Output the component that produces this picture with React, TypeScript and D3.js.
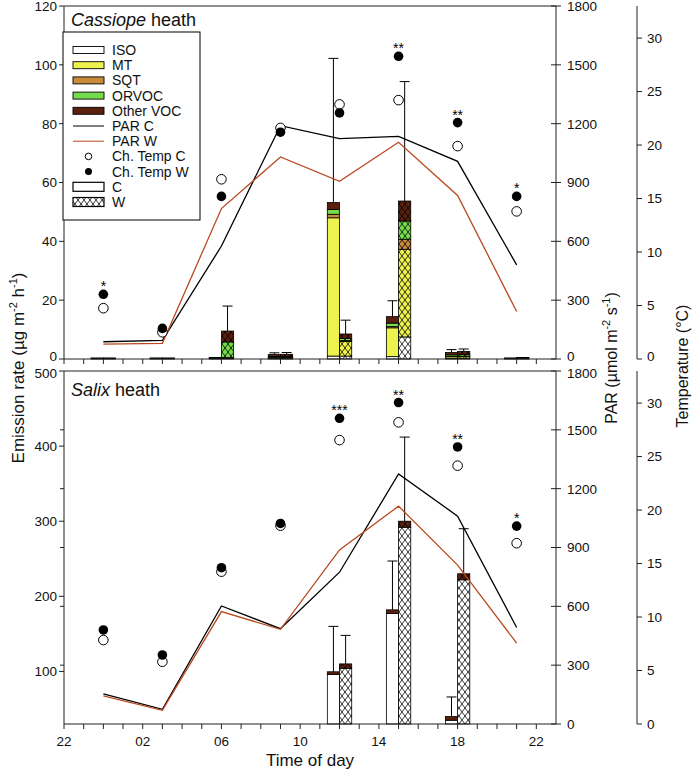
import React from 'react';
import * as d3 from 'd3';

// ---------- data ----------
const times = [0, 3, 6, 9, 12, 15, 18, 21]; // hour of day
const xLabelHours = [22, 26, 30, 34, 38, 42, 46];
const compNames = ['ISO', 'MT', 'SQT', 'ORVOC', 'Other VOC'];
const compColors = ['#ffffff', '#eef24c', '#c98a3a', '#74dc4c', '#5a1f0d'];

// Cassiope heath, control (C)
const cassC_ISO = [0.1, 0.1, 0.1, 0.2, 1.0, 0.8, 0.3, 0.1];
const cassC_MT = [0.1, 0.1, 0.1, 0.3, 47.0, 9.8, 0.5, 0.1];
const cassC_SQT = [0.0, 0.0, 0.0, 0.1, 1.2, 0.4, 0.1, 0.0];
const cassC_ORVOC = [0.05, 0.05, 0.1, 0.3, 1.6, 1.2, 0.5, 0.05];
const cassC_Other = [0.1, 0.1, 0.2, 0.6, 2.4, 2.2, 0.8, 0.1];
const cassC_Err = [0, 0, 0, 0.6, 49.0, 5.4, 1.0, 0];
// Cassiope heath, warming (W)
const cassW_ISO = [0.1, 0.1, 0.2, 0.2, 1.0, 7.5, 0.3, 0.1];
const cassW_MT = [0.1, 0.1, 0.2, 0.3, 5.0, 29.8, 0.6, 0.1];
const cassW_SQT = [0.0, 0.0, 0.1, 0.1, 0.3, 3.4, 0.1, 0.0];
const cassW_ORVOC = [0.05, 0.05, 5.3, 0.3, 0.7, 6.2, 0.6, 0.1];
const cassW_Other = [0.1, 0.1, 3.7, 0.7, 1.5, 6.8, 1.0, 0.2];
const cassW_Err = [0, 0, 8.5, 0.6, 4.7, 40.6, 0.8, 0];
const cassParC = [88, 95, 576, 1190, 1124, 1135, 1008, 480];
const cassParW = [76, 80, 767, 1030, 906, 1105, 834, 242];
const cassTempC = [4.75, 2.5, 16.8, 21.6, 23.8, 24.2, 19.9, 13.8];
const cassTempW = [6.05, 2.86, 15.2, 21.2, 23.0, 28.3, 22.1, 15.2];
const cassStars = ['*', '', '', '', '', '**', '**', '*'];

// Salix heath, control (C)
const salC_ISO = [2, 1, 3, 5, 96, 177, 35, 3];
const salC_MT = [0, 0, 0, 0, 0, 0, 0, 0];
const salC_SQT = [0, 0, 0, 0, 0, 0, 0, 0];
const salC_ORVOC = [0, 0, 0, 0, 0, 0, 0, 0];
const salC_Other = [0.5, 0.5, 1, 1, 3.5, 5, 5, 0.5];
const salC_Err = [0, 0, 0, 0, 60.5, 65, 26, 0];
// Salix heath, warming (W)
const salW_ISO = [2, 1, 3, 6, 104, 292, 222, 3];
const salW_MT = [0, 0, 0, 0, 0, 0, 0, 0];
const salW_SQT = [0, 0, 0, 0, 0, 0, 0, 0];
const salW_ORVOC = [0, 0, 0, 0, 0, 0, 0, 0];
const salW_Other = [0.5, 0.5, 1, 1, 6, 8, 8, 0.5];
const salW_Err = [0, 0, 0, 0, 38, 112, 60, 0];
const salParC = [153, 75, 602, 486, 774, 1275, 1060, 492];
const salParW = [144, 70, 573, 483, 888, 1111, 810, 412];
const salTempC = [7.85, 5.82, 14.24, 18.54, 26.54, 28.2, 24.15, 16.9];
const salTempW = [8.79, 6.45, 14.61, 18.75, 28.58, 30.05, 25.9, 18.5];
const salStars = ['', '', '', '', '***', '**', '**', '*'];

const cassLeftTicks = [0, 20, 40, 60, 80, 100, 120];
const salLeftTicks = [100, 200, 300, 400, 500];
const parTicks = [0, 300, 600, 900, 1200, 1500, 1800];
const tempTicks = [0, 5, 10, 15, 20, 25, 30];

// ---------- layout ----------
const W = 694;
const H = 770;
const XL = 64;
const XR = 556;
const TX = 637;
const FONT = '"Liberation Sans", Arial, Helvetica, sans-serif';
const PAR_W_COLOR = '#b9491f';

const x = d3.scaleLinear().domain([22, 47]).range([XL, XR]);
const hourPos = (t: number) => (t < 22 ? t + 24 : t);
const BW = 12.2;

type PanelProps = {
  top: number;
  bottom: number;
  leftDomain: [number, number];
  leftTicks: number[];
  extraLeftTicks: boolean;
  comps: { C: number[][]; W: number[][] };
  errs: { C: number[]; W: number[] };
  parC: number[];
  parW: number[];
  tempC: number[];
  tempW: number[];
  stars: string[];
  italic: string;
  titleY: number;
  showXLabels: boolean;
  isTop: boolean;
};

function Panel(p: PanelProps) {
  const yL = d3.scaleLinear().domain(p.leftDomain).range([p.bottom, p.top]);
  const yP = d3.scaleLinear().domain([0, 1800]).range([p.bottom, p.top]);
  const yT = d3.scaleLinear().domain([0, 33]).range([p.bottom, p.top]);
  const dmin = p.leftDomain[0];
  const dmax = p.leftDomain[1];

  // nudge labels at the panel joint so they do not collide
  const nudge = (v: number, lo: number, hi: number) => {
    if (p.isTop && v === lo) return -2.5;
    if (!p.isTop && v === hi) return 2.5;
    return 0;
  };

  const bars: React.ReactNode[] = [];
  (['C', 'W'] as const).forEach((side) => {
    times.forEach((t, i) => {
      const cx = x(hourPos(t));
      const x0 = side === 'C' ? cx - BW : cx;
      let cum = 0;
      compNames.forEach((_, k) => {
        const v = p.comps[side][k][i];
        const lo = Math.max(cum, dmin);
        const hi = Math.max(cum + v, dmin);
        cum += v;
        if (v <= 0 || hi <= lo) return;
        const y1 = yL(hi);
        const y0 = yL(lo);
        bars.push(
          <rect key={`${side}-${i}-${k}`} x={x0} y={y1} width={BW} height={Math.max(y0 - y1, 0.01)}
            fill={compColors[k]} stroke="#000" strokeWidth={0.8} />
        );
        if (side === 'W') {
          bars.push(
            <rect key={`${side}-${i}-${k}-h`} x={x0} y={y1} width={BW} height={Math.max(y0 - y1, 0.01)}
              fill="url(#hatch)" stroke="none" />
          );
        }
      });
      const e = p.errs[side][i];
      if (e > 0 && cum > dmin) {
        const ex = x0 + BW / 2;
        bars.push(
          <g key={`${side}-${i}-err`} stroke="#000" strokeWidth={1}>
            <line x1={ex} x2={ex} y1={yL(cum)} y2={yL(cum + e)} />
            <line x1={ex - 5} x2={ex + 5} y1={yL(cum + e)} y2={yL(cum + e)} />
          </g>
        );
      }
    });
  });

  const lineGen = (vals: number[]) =>
    d3.line<number>().x((_, i) => x(hourPos(times[i]))).y((v) => yP(v))(vals) || '';

  const hours = d3.range(22, 47);

  return (
    <g>
      {bars}
      <path d={lineGen(p.parC)} fill="none" stroke="#000" strokeWidth={1.3} />
      <path d={lineGen(p.parW)} fill="none" stroke={PAR_W_COLOR} strokeWidth={1.3} />
      {times.map((t, i) => (
        <circle key={`tc${i}`} cx={x(hourPos(t))} cy={yT(p.tempC[i])} r={4.8} fill="#fff" stroke="#000" strokeWidth={1} />
      ))}
      {times.map((t, i) => (
        <circle key={`tw${i}`} cx={x(hourPos(t))} cy={yT(p.tempW[i])} r={4.8} fill="#000" />
      ))}
      {times.map((t, i) =>
        p.stars[i] ? (
          <text key={`st${i}`} x={x(hourPos(t))} y={yT(p.tempW[i]) - 3} fontSize={14} textAnchor="middle" fontFamily={FONT}>
            {p.stars[i]}
          </text>
        ) : null
      )}
      <g stroke="#222" strokeWidth={1} fill="none">
        <line x1={XL} x2={XR} y1={p.top} y2={p.top} />
        <line x1={XL} x2={XR} y1={p.bottom} y2={p.bottom} />
        <line x1={XL} x2={XL} y1={p.top} y2={p.bottom} />
        <line x1={XR} x2={XR} y1={p.top} y2={p.bottom} />
        <line x1={TX} x2={TX} y1={p.top} y2={p.bottom} />
      </g>
      {p.leftTicks.map((v) => (
        <g key={`lt${v}`}>
          <line x1={XL - 5} x2={XL} y1={yL(v)} y2={yL(v)} stroke="#222" />
          <text x={XL - 7} y={yL(v) + nudge(v, dmin, dmax)} dy="0.36em" textAnchor="end" fontSize={13.5} fontFamily={FONT} fill="#111">{v}</text>
        </g>
      ))}
      {p.extraLeftTicks &&
        parTicks.slice(1, 6).map((v) => (
          <line key={`elt${v}`} x1={XL - 4} x2={XL} y1={yP(v)} y2={yP(v)} stroke="#222" />
        ))}
      {parTicks.map((v) => (
        <g key={`pt${v}`}>
          <line x1={XR - 5} x2={XR + 5} y1={yP(v)} y2={yP(v)} stroke="#222" />
          <text x={XR + 11} y={yP(v) + nudge(v, 0, 1800)} dy="0.36em" fontSize={13.5} fontFamily={FONT} fill="#111">{v}</text>
        </g>
      ))}
      {tempTicks.map((v) => (
        <g key={`tt${v}`}>
          <line x1={TX} x2={TX + 5} y1={yT(v)} y2={yT(v)} stroke="#222" />
          <text x={TX + 10} y={yT(v) + (p.isTop && v === 0 ? -2.5 : 0)} dy="0.36em" fontSize={13.5} fontFamily={FONT} fill="#111">{v}</text>
        </g>
      ))}
      {hours.map((h) => (
        <line key={`xt${h}`} x1={x(h)} x2={x(h)} y1={p.bottom} y2={p.bottom + 5} stroke="#222" />
      ))}
      {p.showXLabels &&
        xLabelHours.map((h) => (
          <text key={`xl${h}`} x={x(h)} y={p.bottom + 22} textAnchor="middle" fontSize={13.5} fontFamily={FONT} fill="#111">
            {String(h % 24).padStart(2, '0')}
          </text>
        ))}
      <text x={XL + 7} y={p.titleY} fontSize={18} fontFamily={FONT} fill="#111">
        <tspan fontStyle="italic">{p.italic}</tspan> heath
      </text>
    </g>
  );
}

function Legend() {
  const lx = 63;
  const ly = 32;
  const sx = 73;
  const sw = 31;
  const tx = 112;
  const y0 = 50;
  const step = 15.2;
  const items: React.ReactNode[] = [];
  compNames.forEach((n, k) => {
    const cy = y0 + k * step;
    items.push(
      <g key={n}>
        <rect x={sx} y={cy - 3.5} width={sw} height={7} fill={compColors[k]} stroke="#000" strokeWidth={0.9} />
        <text x={tx} y={cy} dy="0.36em" fontSize={14} fontFamily={FONT} fill="#111">{n}</text>
      </g>
    );
  });
  const rest = [
    { label: 'PAR C', kind: 'lineC' },
    { label: 'PAR W', kind: 'lineW' },
    { label: 'Ch. Temp C', kind: 'open' },
    { label: 'Ch. Temp W', kind: 'filled' },
    { label: 'C', kind: 'boxC' },
    { label: 'W', kind: 'boxW' },
  ];
  rest.forEach((r, j) => {
    const cy = y0 + (j + 5) * step;
    let sym: React.ReactNode = null;
    if (r.kind === 'lineC') sym = <line x1={sx} x2={sx + sw} y1={cy} y2={cy} stroke="#000" strokeWidth={1} />;
    if (r.kind === 'lineW') sym = <line x1={sx} x2={sx + sw} y1={cy} y2={cy} stroke={PAR_W_COLOR} strokeWidth={1} />;
    if (r.kind === 'open') sym = <circle cx={sx + sw / 2} cy={cy} r={3.3} fill="#fff" stroke="#000" strokeWidth={1} />;
    if (r.kind === 'filled') sym = <circle cx={sx + sw / 2} cy={cy} r={3.5} fill="#000" />;
    if (r.kind === 'boxC') sym = <rect x={sx} y={cy - 4.5} width={sw} height={9} fill="#fff" stroke="#000" strokeWidth={1.2} />;
    if (r.kind === 'boxW')
      sym = (
        <g>
          <rect x={sx} y={cy - 4.5} width={sw} height={9} fill="#fff" stroke="#000" strokeWidth={1.2} />
          <rect x={sx} y={cy - 4.5} width={sw} height={9} fill="url(#hatch)" />
        </g>
      );
    items.push(
      <g key={r.label}>
        {sym}
        <text x={tx} y={cy} dy="0.36em" fontSize={14} fontFamily={FONT} fill="#111">{r.label}</text>
      </g>
    );
  });
  return (
    <g>
      <rect x={lx} y={ly} width={137} height={188} fill="#fff" stroke="#000" strokeWidth={1} />
      {items}
    </g>
  );
}

export default function App() {
  return (
    <svg width={W} height={H} viewBox={`0 0 ${W} ${H}`} style={{ position: 'absolute', left: 0, top: 0, background: '#fff' }}>
      <defs>
        <pattern id="hatch" patternUnits="userSpaceOnUse" width={6} height={8}>
          <path d="M0,0 L6,8 M6,0 L0,8" stroke="#000" strokeWidth={0.8} fill="none" />
        </pattern>
      </defs>
      <rect x={0} y={0} width={W} height={H} fill="#fff" />
      <Panel
        top={6}
        bottom={359}
        leftDomain={[0, 120]}
        leftTicks={cassLeftTicks}
        extraLeftTicks={false}
        comps={{
          C: [cassC_ISO, cassC_MT, cassC_SQT, cassC_ORVOC, cassC_Other],
          W: [cassW_ISO, cassW_MT, cassW_SQT, cassW_ORVOC, cassW_Other],
        }}
        errs={{ C: cassC_Err, W: cassW_Err }}
        parC={cassParC}
        parW={cassParW}
        tempC={cassTempC}
        tempW={cassTempW}
        stars={cassStars}
        italic="Cassiope"
        titleY={26}
        showXLabels={false}
        isTop={true}
      />
      <Legend />
      <Panel
        top={371}
        bottom={724}
        leftDomain={[30, 500]}
        leftTicks={salLeftTicks}
        extraLeftTicks={true}
        comps={{
          C: [salC_ISO, salC_MT, salC_SQT, salC_ORVOC, salC_Other],
          W: [salW_ISO, salW_MT, salW_SQT, salW_ORVOC, salW_Other],
        }}
        errs={{ C: salC_Err, W: salW_Err }}
        parC={salParC}
        parW={salParW}
        tempC={salTempC}
        tempW={salTempW}
        stars={salStars}
        italic="Salix"
        titleY={396}
        showXLabels={true}
        isTop={false}
      />
      <text transform="translate(24,368) rotate(-90)" textAnchor="middle" fontSize={17} fontFamily={FONT} fill="#111">
        Emission rate (µg m<tspan fontSize={11} dy={-7}>-2</tspan><tspan dy={7}> h</tspan><tspan fontSize={11} dy={-7}>-1</tspan><tspan dy={7}>)</tspan>
      </text>
      <text transform="translate(617,358) rotate(-90)" textAnchor="middle" fontSize={16} fontFamily={FONT} fill="#111">
        PAR (µmol m<tspan fontSize={11} dy={-7}>-2</tspan><tspan dy={7}> s</tspan><tspan fontSize={11} dy={-7}>-1</tspan><tspan dy={7}>)</tspan>
      </text>
      <text transform="translate(688,366) rotate(-90)" textAnchor="middle" fontSize={16} fontFamily={FONT} fill="#111">
        Temperature (°C)
      </text>
      <text x={(XL + XR) / 2} y={766} textAnchor="middle" fontSize={17} fontFamily={FONT} fill="#111">
        Time of day
      </text>
    </svg>
  );
}
